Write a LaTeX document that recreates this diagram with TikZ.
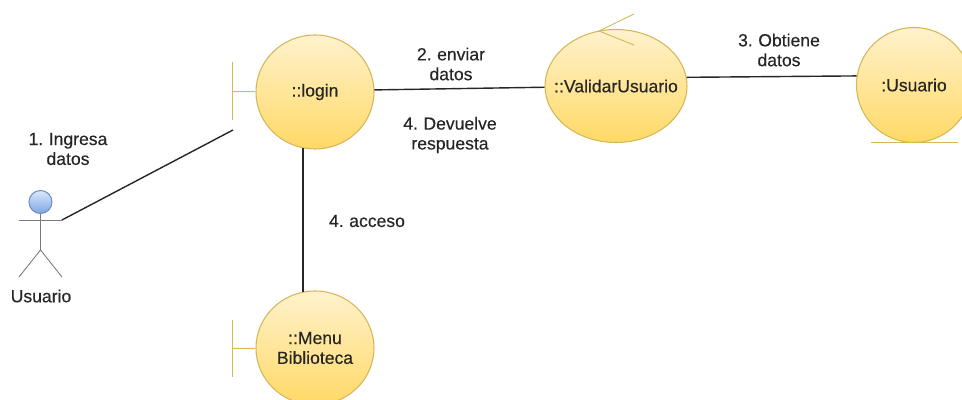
\documentclass[tikz,border=0pt]{standalone}
\usepackage{fontspec}
\setmainfont{Liberation Sans}[FakeBold=0.35,WordSpace=0.8]
\usetikzlibrary{shapes.geometric}
\definecolor{oroclaro}{HTML}{FFF2CC}
\definecolor{oro}{HTML}{FFD966}
\definecolor{orolinea}{HTML}{D6B656}
\definecolor{azulclaro}{HTML}{DAE8FC}
\definecolor{azul}{HTML}{7EA6E0}
\definecolor{azullinea}{HTML}{6C8EBF}
\definecolor{texto}{HTML}{262626}
\definecolor{figura}{HTML}{7A7A7A}
\begin{document}
\begin{tikzpicture}[
    every node/.style={font=\fontsize{10}{11.3}\selectfont, text=texto, align=center},
    objeto/.style={ellipse, draw=orolinea, line width=0.6pt, top color=oroclaro, bottom color=oro, inner sep=0pt},
    enlace/.style={draw=texto, line width=0.8pt},
    adorno/.style={draw=orolinea, line width=0.5pt},
    persona/.style={draw=figura, line width=0.5pt}]
      \useasboundingbox (0,0) rectangle (19.24,8);

      \node (login) at (6.30,6.16) [objeto, minimum width=2.36cm, minimum height=2.28cm] {::login};
      \node (validar) at (12.32,6.28) [objeto, minimum width=2.84cm, minimum height=2.26cm] {\makebox[0pt]{::ValidarUsuario}};
      \node (usuario) at (18.28,6.30) [objeto, minimum width=2.30cm, minimum height=2.30cm] {:Usuario};
      \node (menu) at (6.30,1.04) [objeto, minimum width=2.36cm, minimum height=2.28cm] {::Menu\\Biblioteca};

      % boundary, control, entity
      \draw[adorno] (4.64,6.76) -- (4.64,5.60);
      \coordinate (loginbar) at (4.64,6.18);
      \draw[adorno] (loginbar) -- (login.west |- loginbar);
      \draw[adorno] (4.64,1.60) -- (4.64,0.46);
      \coordinate (menubar) at (4.64,1.04);
      \draw[adorno] (menubar) -- (menu.west);
      \draw[adorno] (12.68,7.72) -- (11.98,7.38) -- (12.68,7.10);
      \draw[adorno] (17.42,5.16) -- (19.16,5.16);

      % actor
      \node (cabeza) at (0.81,3.96) [circle, draw=azullinea, line width=0.6pt, top color=azulclaro, bottom color=azul, minimum size=0.46cm, inner sep=0pt] {};
      \coordinate (cadera) at (0.81,3.00);
      \coordinate (mano) at (1.24,3.60);
      \draw[persona] (cabeza.south) -- (cadera);
      \draw[persona] (0.38,3.60) -- (mano);
      \draw[persona] (0.38,2.46) -- (cadera) -- (1.24,2.46);
      \node (actor) at (0.82,2.08) {Usuario};

      \coordinate (fin) at (4.66,5.40);
      \draw[enlace] (mano) -- (fin);
      \draw[enlace] (login.2) -- (validar.181);
      \draw[enlace] (validar.7) -- (usuario.171);
      \draw[enlace] (login.258) -- (menu.102);

      \node (ingresa) at (1.36,5.02) {1. Ingresa\\datos};
      \node (enviar) at (9.02,6.72) {2. enviar\\datos};
      \node (devuelve) at (9.00,5.30) {4. Devuelve\\respuesta};
      \node (obtiene) at (15.58,7.00) {3. Obtiene\\datos};
      \node (acceso) at (7.34,3.58) {4. acceso};
    \end{tikzpicture}
\end{document}
